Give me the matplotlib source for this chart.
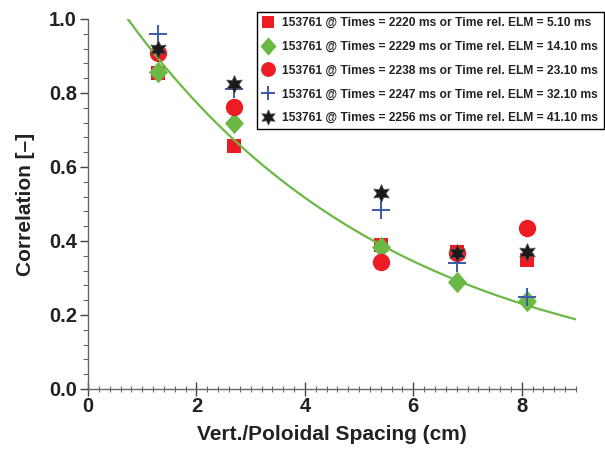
import numpy as np
import matplotlib
matplotlib.use("Agg")
import matplotlib.pyplot as plt
from matplotlib.path import Path
from matplotlib.ticker import MultipleLocator, FormatStrFormatter

plt.rcParams['font.family'] = ['Liberation Sans', 'DejaVu Sans']
plt.rcParams['font.weight'] = 'bold'

x = [1.3, 2.7, 5.4, 6.8, 8.1]
labels = [
    "153761 @ Times = 2220 ms or Time rel. ELM = 5.10 ms",
    "153761 @ Times = 2229 ms or Time rel. ELM = 14.10 ms",
    "153761 @ Times = 2238 ms or Time rel. ELM = 23.10 ms",
    "153761 @ Times = 2247 ms or Time rel. ELM = 32.10 ms",
    "153761 @ Times = 2256 ms or Time rel. ELM = 41.10 ms",
]
y_2220 = [0.855, 0.657, 0.39, 0.37, 0.348]
y_2229 = [0.857, 0.72, 0.385, 0.29, 0.238]
y_2238 = [0.908, 0.762, 0.343, 0.367, 0.435]
y_2247 = [0.96, 0.81, 0.485, 0.34, 0.248]
y_2256 = [0.92, 0.824, 0.53, 0.367, 0.37]

# exponential fit curve parameters: y = A * exp(-x / L)
fit_A = 1.16
fit_L = 4.95
fit_xmin, fit_xmax = 0.735, 9.0

red = '#ed1c24'
green = '#6ab945'
blue = '#3c5aa8'
black = '#1a1a1a'

diamond = Path([(0, 1), (0.88, 0), (0, -1), (-0.88, 0), (0, 1)],
               [Path.MOVETO, Path.LINETO, Path.LINETO, Path.LINETO, Path.CLOSEPOLY])

fig = plt.figure(figsize=(6.05, 4.66), dpi=100)
ax = fig.add_axes([88/605, 1-389/466, (576-88)/605, (389-19)/466])

series = [
    (y_2220, dict(marker='s', color=red, markersize=10.5, markeredgewidth=0), 3.0),
    (y_2229, dict(marker=diamond, color=green, markersize=15.5, markeredgewidth=0), 3.1),
    (y_2238, dict(marker='o', color=red, markersize=12.5, markeredgewidth=0), 3.2),
    (y_2247, dict(marker='+', color=blue, markersize=12.5, markeredgewidth=1.4), 4.0),
    (y_2256, dict(marker=(6, 1, 0), color=black, markersize=13, markeredgewidth=0.5,
                  markeredgecolor='#555555'), 4.1),
]
for i, (ys, kw, z) in enumerate(series):
    ax.plot(x, ys, linestyle='none', label=labels[i], zorder=z, **kw)

xf = np.linspace(fit_xmin, fit_xmax, 200)
ax.plot(xf, fit_A * np.exp(-xf / fit_L), color=green, lw=1.6, zorder=3.6)

ax.set_xlim(0, 9.0)
ax.set_ylim(0, 1.0)
ax.xaxis.set_major_locator(MultipleLocator(2))
ax.xaxis.set_minor_locator(MultipleLocator(0.2))
ax.yaxis.set_major_locator(MultipleLocator(0.2))
ax.yaxis.set_minor_locator(MultipleLocator(0.04))
ax.yaxis.set_major_formatter(FormatStrFormatter('%.1f'))

for s in ['top', 'right']:
    ax.spines[s].set_visible(False)
for s in ['left', 'bottom']:
    ax.spines[s].set_color('#666666')
    ax.spines[s].set_linewidth(1.0)

ax.tick_params(axis='both', which='major', length=6, width=1.0, color='#444444',
               labelsize=14.5, labelcolor='#222222', pad=2)
ax.tick_params(axis='x', which='minor', direction='inout', length=5, width=0.8, color='#666666')
ax.tick_params(axis='y', which='minor', direction='out', length=3.5, width=0.8, color='#666666')
ax.tick_params(axis='x', which='major', direction='inout', length=10, pad=1)
for t in ax.get_xticklabels() + ax.get_yticklabels():
    t.set_fontweight('bold')

ax.set_xlabel('Vert./Poloidal Spacing (cm)', fontsize=15, fontweight='bold', color='#222222', labelpad=6)
ax.set_ylabel('Correlation [\u2013]', fontsize=15, fontweight='bold', color='#222222', labelpad=10)

leg = ax.legend(loc='upper left', bbox_to_anchor=(257/605, 1-12/466), bbox_transform=fig.transFigure,
                fontsize=8.65, frameon=True, fancybox=False, edgecolor='black', framealpha=1,
                borderpad=0.42, labelspacing=0.98, handlelength=1.05, handletextpad=0.65,
                borderaxespad=0, markerscale=0.85)
leg.get_frame().set_linewidth(1.0)
for t in leg.get_texts():
    t.set_fontweight('bold')
    t.set_color('#222222')

fig.savefig('out.png', dpi=100)
